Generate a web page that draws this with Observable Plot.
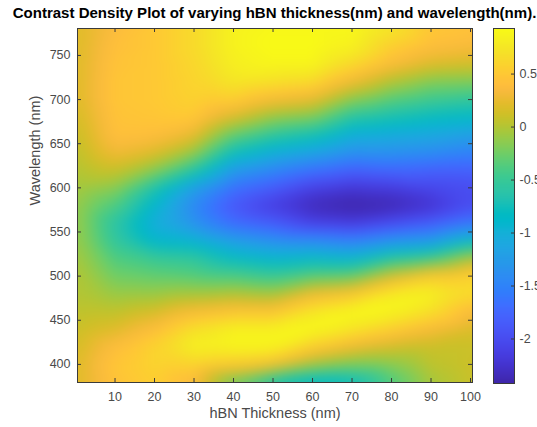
<!DOCTYPE html>
<html>
<head>
<meta charset="utf-8">
<script src="https://cdn.jsdelivr.net/npm/d3@7"></script>
<script src="https://cdn.jsdelivr.net/npm/@observablehq/plot@0.6"></script>
<style>
html, body { margin: 0; padding: 0; background: #fff; overflow: hidden; }
#wrap { position: relative; width: 537px; height: 427px; overflow: hidden; font-family: "Liberation Sans", Arial, sans-serif; }
#title { position: absolute; top: 6px; left: 274.5px; transform: translateX(-50%); white-space: nowrap; font-weight: bold; font-size: 13px; line-height: 14px; color: #000; }
#main { position: absolute; left: 0; top: 0; }
#cbar { position: absolute; left: 492px; top: 0; }
</style>
</head>
<body>
<div id="wrap">
  <div id="main"></div>
  <div id="cbar"></div>
  <div id="title"></div>
</div>
<script>
const titleText = "Contrast Density Plot of varying hBN thickness(nm) and wavelength(nm).";
const xLabel = "hBN Thickness (nm)";
const yLabel = "Wavelength (nm)";

// sample positions (first/last are the edges of the image)
const thickness = [0.5, 10, 20, 30, 40, 50, 60, 70, 80, 90, 100.5];
const wavelength = [780.5, 760, 740, 720, 700, 680, 660, 640, 620, 600, 580, 560, 540, 520, 500, 480, 460, 440, 420, 400, 379.5];
// contrast[i][j] = contrast at wavelength[i], thickness[j]
const contrast = [
  [ 0.20,  0.38,  0.50,  0.65,  0.85,  0.90,  0.90,  0.90,  0.75,  0.50,  0.45],
  [ 0.20,  0.42,  0.50,  0.65,  0.85,  0.92,  0.92,  0.85,  0.55,  0.40,  0.35],
  [ 0.20,  0.45,  0.50,  0.62,  0.82,  0.88,  0.88,  0.65,  0.38,  0.20,  0.15],
  [ 0.20,  0.47,  0.50,  0.60,  0.75,  0.70,  0.65,  0.30,  0.00, -0.18, -0.20],
  [ 0.20,  0.47,  0.50,  0.58,  0.55,  0.35,  0.25, -0.15, -0.35, -0.47, -0.55],
  [ 0.15,  0.45,  0.48,  0.50,  0.18, -0.10, -0.20, -0.60, -0.70, -0.80, -0.85],
  [ 0.10,  0.42,  0.40,  0.25, -0.30, -0.55, -0.70, -1.00, -1.05, -1.10, -1.20],
  [ 0.05,  0.30,  0.20, -0.10, -0.75, -1.00, -1.15, -1.35, -1.35, -1.40, -1.50],
  [ 0.00,  0.10, -0.15, -0.60, -1.25, -1.45, -1.65, -1.80, -1.75, -1.80, -1.80],
  [-0.05, -0.15, -0.65, -1.20, -1.65, -1.85, -2.10, -2.20, -2.15, -2.05, -2.00],
  [-0.10, -0.38, -0.90, -1.45, -1.90, -2.15, -2.35, -2.42, -2.38, -2.25, -2.00],
  [-0.10, -0.60, -1.05, -1.35, -1.70, -1.85, -2.10, -2.15, -2.00, -1.85, -1.60],
  [-0.10, -0.55, -0.90, -0.95, -1.20, -1.35, -1.40, -1.50, -1.33, -1.25, -0.85],
  [-0.05, -0.38, -0.50, -0.55, -0.80, -0.90, -0.85, -0.90, -0.60, -0.45,  0.00],
  [ 0.00, -0.25, -0.30, -0.35, -0.40, -0.50, -0.35, -0.30,  0.15,  0.50,  0.60],
  [ 0.00, -0.10, -0.10, -0.05,  0.00, -0.05,  0.30,  0.45,  0.80,  0.85,  0.68],
  [ 0.05,  0.05,  0.15,  0.35,  0.45,  0.45,  0.75,  0.90,  0.88,  0.70,  0.35],
  [ 0.10,  0.20,  0.40,  0.70,  0.85,  0.85,  0.90,  0.75,  0.55,  0.35,  0.18],
  [ 0.15,  0.40,  0.60,  0.85,  0.88,  0.88,  0.55,  0.30,  0.15,  0.10,  0.10],
  [ 0.20,  0.48,  0.60,  0.60,  0.50,  0.35, -0.05, -0.20, -0.15,  0.05,  0.12],
  [ 0.20,  0.45,  0.55,  0.35, -0.30, -0.75, -0.90, -0.80, -0.40, -0.05,  0.10]
];
const xTicks = [10, 20, 30, 40, 50, 60, 70, 80, 90, 100];
const yTicks = [400, 450, 500, 550, 600, 650, 700, 750];
const cTicks = [-2, -1.5, -1, -0.5, 0, 0.5];
const cMin = -2.42, cMax = 0.93;

// MATLAB parula(64)
const parula = [
[0.2422,0.1504,0.6603],[0.2504,0.1650,0.7076],[0.2578,0.1818,0.7511],[0.2647,0.1978,0.7952],
[0.2706,0.2147,0.8364],[0.2751,0.2342,0.8710],[0.2783,0.2559,0.8991],[0.2803,0.2782,0.9221],
[0.2813,0.3006,0.9414],[0.2810,0.3228,0.9579],[0.2795,0.3447,0.9717],[0.2760,0.3667,0.9829],
[0.2699,0.3892,0.9906],[0.2602,0.4123,0.9952],[0.2440,0.4358,0.9988],[0.2206,0.4603,0.9973],
[0.1963,0.4847,0.9892],[0.1834,0.5074,0.9798],[0.1786,0.5289,0.9682],[0.1764,0.5499,0.9520],
[0.1687,0.5703,0.9359],[0.1540,0.5902,0.9218],[0.1460,0.6091,0.9079],[0.1380,0.6276,0.8973],
[0.1248,0.6459,0.8883],[0.1113,0.6635,0.8763],[0.0952,0.6798,0.8598],[0.0689,0.6948,0.8394],
[0.0297,0.7082,0.8163],[0.0036,0.7203,0.7917],[0.0067,0.7312,0.7660],[0.0433,0.7411,0.7394],
[0.0964,0.7500,0.7120],[0.1408,0.7584,0.6842],[0.1717,0.7670,0.6554],[0.1938,0.7758,0.6251],
[0.2161,0.7843,0.5923],[0.2470,0.7918,0.5567],[0.2906,0.7973,0.5188],[0.3406,0.8008,0.4789],
[0.3909,0.8029,0.4354],[0.4456,0.8024,0.3909],[0.5044,0.7993,0.3480],[0.5616,0.7942,0.3045],
[0.6174,0.7876,0.2612],[0.6720,0.7793,0.2227],[0.7242,0.7698,0.1910],[0.7738,0.7598,0.1646],
[0.8203,0.7498,0.1535],[0.8634,0.7406,0.1596],[0.9035,0.7330,0.1774],[0.9393,0.7288,0.2100],
[0.9728,0.7298,0.2394],[0.9956,0.7434,0.2371],[0.9970,0.7659,0.2199],[0.9952,0.7893,0.2028],
[0.9892,0.8136,0.1885],[0.9786,0.8386,0.1766],[0.9676,0.8639,0.1643],[0.9610,0.8890,0.1537],
[0.9597,0.9135,0.1423],[0.9628,0.9373,0.1265],[0.9691,0.9606,0.1064],[0.9769,0.9839,0.0805]
].map(([r, g, b]) => d3.rgb(r * 255, g * 255, b * 255).formatHex());

const colorOpts = {type: "linear", domain: [cMin, cMax], clamp: true, interpolate: () => d3.piecewise(d3.interpolateRgb, parula)};

const samples = [];
wavelength.forEach((w, i) => thickness.forEach((t, j) => samples.push({t, w, c: contrast[i][j]})));

const font = '"Liberation Sans", Arial, sans-serif';
const textColor = "#4a4a4a";
const frameColor = "#3a3a3a";
const W = 537, H = 427, mL = 77, mR = 65, mT = 28, mB = 45;
const fW = W - mL - mR, fH = H - mT - mB;
const tickLen = 4;

const main = Plot.plot({
  width: W, height: H,
  marginLeft: mL, marginRight: mR, marginTop: mT, marginBottom: mB,
  style: {fontFamily: font, fontSize: "12.5px", color: textColor, background: "transparent"},
  x: {domain: [0.5, 100.5]},
  y: {domain: [379.5, 780.5]},
  color: colorOpts,
  marks: [
    Plot.raster(samples, {x: "t", y: "w", fill: "c", interpolate: "barycentric", blur: 6,
      x1: 0.5, x2: 100.5, y1: 379.5, y2: 780.5, pixelSize: 1}),
    Plot.frame({stroke: frameColor, strokeWidth: 1}),
    Plot.tickX(xTicks, {x: d => d, stroke: frameColor, insetTop: fH - tickLen}),
    Plot.tickX(xTicks, {x: d => d, stroke: frameColor, insetBottom: fH - tickLen}),
    Plot.tickY(yTicks, {y: d => d, stroke: frameColor, insetRight: fW - tickLen}),
    Plot.tickY(yTicks, {y: d => d, stroke: frameColor, insetLeft: fW - tickLen}),
    Plot.axisX(xTicks, {tickSize: 0, tickPadding: 10, label: null, tickFormat: d => String(d)}),
    Plot.axisY(yTicks, {tickSize: 0, tickPadding: 7, label: null, tickFormat: d => String(d)}),
    Plot.text([xLabel], {frameAnchor: "bottom", dy: 35, fontSize: 14.5, fill: textColor}),
    Plot.text([yLabel], {frameAnchor: "left", dx: -42, rotate: -90, fontSize: 14.5, fill: textColor})
  ]
});
document.getElementById("main").appendChild(main);

const cbW = 45, cbL = 1, cbR = 23, cbT = 28, cbB = 44;
const cbar = Plot.plot({
  width: cbW, height: H,
  marginLeft: cbL, marginRight: cbR, marginTop: cbT, marginBottom: cbB,
  style: {fontFamily: font, fontSize: "12.5px", color: textColor, background: "transparent"},
  x: {domain: [0, 1], axis: null},
  y: {domain: [cMin, cMax]},
  color: colorOpts,
  marks: [
    Plot.raster({fill: (x, y) => y, x1: 0, x2: 1, y1: cMin, y2: cMax, pixelSize: 1}),
    Plot.frame({stroke: frameColor, strokeWidth: 1}),
    Plot.tickY(cTicks, {y: d => d, stroke: frameColor, insetLeft: (cbW - cbL - cbR) - 3}),
    Plot.axisY(cTicks, {anchor: "right", tickSize: 0, tickPadding: 5, label: null, tickFormat: d => String(d)})
  ]
});
document.getElementById("cbar").appendChild(cbar);

// title: fit its width to the span it has in the reference
const titleEl = document.getElementById("title");
titleEl.textContent = titleText;
const ctx = document.createElement("canvas").getContext("2d");
ctx.font = 'bold 13px "Liberation Sans", Arial, sans-serif';
const w13 = ctx.measureText(titleText).width;
titleEl.style.fontSize = (13 * 524 / w13).toFixed(2) + "px";
</script>
</body>
</html>
